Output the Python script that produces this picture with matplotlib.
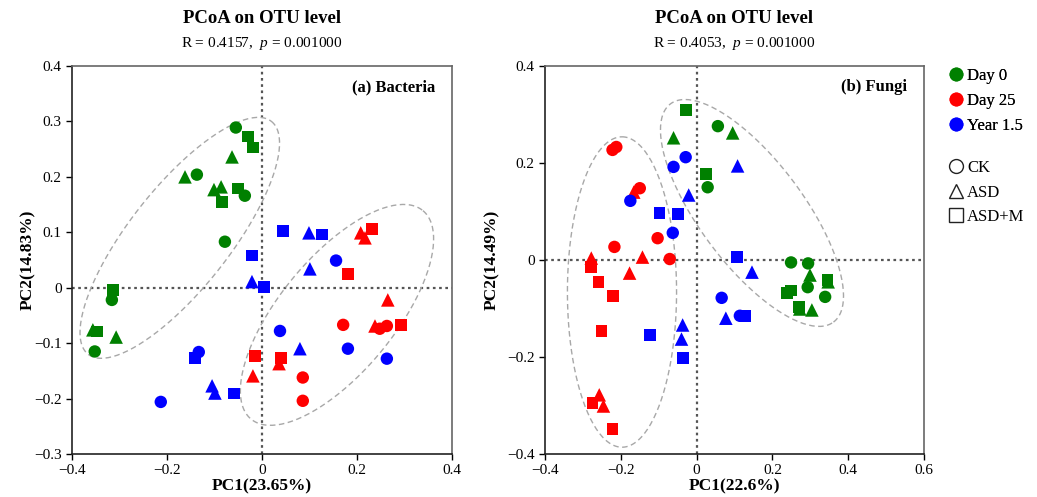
"""PCoA ordination of bacterial and fungal communities (OTU level)."""

import matplotlib
matplotlib.use("Agg")
import matplotlib.pyplot as plt
import numpy as np
from matplotlib.lines import Line2D
from matplotlib.ticker import FuncFormatter

plt.rcParams["font.family"] = ["Liberation Serif", "DejaVu Serif"]
plt.rcParams["mathtext.fontset"] = "custom"
plt.rcParams["mathtext.rm"] = "Liberation Serif"
plt.rcParams["mathtext.it"] = "Liberation Serif:italic"

# ---- data: bacteria (PC1, PC2) per sampling time and treatment ----
bac_day0_ck_x = [-0.055, -0.137, -0.036, -0.078, -0.316, -0.352]
bac_day0_ck_y = [0.289, 0.204, 0.166, 0.083, -0.022, -0.115]
bac_day0_asd_x = [-0.063, -0.162, -0.101, -0.086, -0.356, -0.307]
bac_day0_asd_y = [0.236, 0.200, 0.177, 0.182, -0.076, -0.089]
bac_day0_asdm_x = [-0.030, -0.019, -0.051, -0.084, -0.314, -0.348]
bac_day0_asdm_y = [0.273, 0.253, 0.179, 0.155, -0.004, -0.079]

bac_day25_ck_x = [0.171, 0.248, 0.263, 0.086, 0.086]
bac_day25_ck_y = [-0.067, -0.074, -0.069, -0.162, -0.204]
bac_day25_asd_x = [0.208, 0.217, 0.265, 0.238, 0.036, -0.019]
bac_day25_asd_y = [0.099, 0.090, -0.022, -0.069, -0.137, -0.159]
bac_day25_asdm_x = [0.232, 0.181, 0.292, -0.015, 0.040]
bac_day25_asdm_y = [0.106, 0.025, -0.067, -0.123, -0.127]

bac_year_ck_x = [0.156, 0.038, 0.181, 0.263, -0.133, -0.213]
bac_year_ck_y = [0.049, -0.078, -0.110, -0.128, -0.116, -0.206]
bac_year_asd_x = [0.099, 0.101, -0.021, 0.080, -0.105, -0.099]
bac_year_asd_y = [0.099, 0.034, 0.011, -0.110, -0.177, -0.190]
bac_year_asdm_x = [-0.021, 0.044, 0.126, 0.004, -0.141, -0.059]
bac_year_asdm_y = [0.058, 0.103, 0.096, 0.002, -0.127, -0.191]

# ---- data: fungi ----
fun_day0_ck_x = [0.056, 0.029, 0.249, 0.294, 0.293, 0.339]
fun_day0_ck_y = [0.276, 0.150, -0.005, -0.007, -0.056, -0.076]
fun_day0_asd_x = [0.095, -0.061, 0.299, 0.347, 0.272, 0.304]
fun_day0_asd_y = [0.262, 0.252, -0.031, -0.045, -0.101, -0.103]
fun_day0_asdm_x = [-0.029, 0.024, 0.248, 0.238, 0.345, 0.270]
fun_day0_asdm_y = [0.309, 0.177, -0.063, -0.068, -0.042, -0.097]

fun_day25_ck_x = [-0.222, -0.212, -0.150, -0.103, -0.217, -0.071]
fun_day25_ck_y = [0.227, 0.233, 0.148, 0.045, 0.027, 0.002]
fun_day25_asd_x = [-0.166, -0.278, -0.143, -0.177, -0.257, -0.246]
fun_day25_asd_y = [0.140, 0.004, 0.006, -0.027, -0.278, -0.301]
fun_day25_asdm_x = [-0.278, -0.259, -0.220, -0.251, -0.275, -0.222]
fun_day25_asdm_y = [-0.014, -0.045, -0.074, -0.146, -0.295, -0.348]

fun_year_ck_x = [-0.029, -0.061, -0.175, -0.063, 0.066, 0.114]
fun_year_ck_y = [0.212, 0.192, 0.122, 0.056, -0.078, -0.115]
fun_year_asd_x = [0.108, -0.021, -0.037, -0.040, 0.077, 0.146]
fun_year_asd_y = [0.194, 0.134, -0.134, -0.163, -0.120, -0.025]
fun_year_asdm_x = [-0.098, -0.050, 0.106, -0.124, -0.037, 0.127]
fun_year_asdm_y = [0.097, 0.095, 0.006, -0.155, -0.202, -0.115]

times = ["Day 0", "Day 25", "Year 1.5"]
treatments = ["CK", "ASD", "ASD+M"]
colors = {"Day 0": "#008000", "Day 25": "#ff0000", "Year 1.5": "#0000ff"}
markers = {"CK": "o", "ASD": "^", "ASD+M": "s"}
sizes = {"CK": 80, "ASD": 95, "ASD+M": 72}

bacteria = {
    ("Day 0", "CK"): (bac_day0_ck_x, bac_day0_ck_y),
    ("Day 0", "ASD"): (bac_day0_asd_x, bac_day0_asd_y),
    ("Day 0", "ASD+M"): (bac_day0_asdm_x, bac_day0_asdm_y),
    ("Day 25", "CK"): (bac_day25_ck_x, bac_day25_ck_y),
    ("Day 25", "ASD"): (bac_day25_asd_x, bac_day25_asd_y),
    ("Day 25", "ASD+M"): (bac_day25_asdm_x, bac_day25_asdm_y),
    ("Year 1.5", "CK"): (bac_year_ck_x, bac_year_ck_y),
    ("Year 1.5", "ASD"): (bac_year_asd_x, bac_year_asd_y),
    ("Year 1.5", "ASD+M"): (bac_year_asdm_x, bac_year_asdm_y),
}
fungi = {
    ("Day 0", "CK"): (fun_day0_ck_x, fun_day0_ck_y),
    ("Day 0", "ASD"): (fun_day0_asd_x, fun_day0_asd_y),
    ("Day 0", "ASD+M"): (fun_day0_asdm_x, fun_day0_asdm_y),
    ("Day 25", "CK"): (fun_day25_ck_x, fun_day25_ck_y),
    ("Day 25", "ASD"): (fun_day25_asd_x, fun_day25_asd_y),
    ("Day 25", "ASD+M"): (fun_day25_asdm_x, fun_day25_asdm_y),
    ("Year 1.5", "CK"): (fun_year_ck_x, fun_year_ck_y),
    ("Year 1.5", "ASD"): (fun_year_asd_x, fun_year_asd_y),
    ("Year 1.5", "ASD+M"): (fun_year_asdm_x, fun_year_asdm_y),
}


def tick_fmt(v, _pos):
    return "0" if abs(v) < 1e-9 else f"{v:g}".replace("-", "\u2212")


def draw_ellipse(ax, center, major, minor):
    """Dashed ellipse given centre and two semi-axis vectors (data units)."""
    t = np.linspace(0, 2 * np.pi, 200)
    x = center[0] + major[0] * np.cos(t) + minor[0] * np.sin(t)
    y = center[1] + major[1] * np.cos(t) + minor[1] * np.sin(t)
    ax.plot(x, y, ls=(0, (4, 2.5)), color="#a8a8a8", lw=1.0, zorder=1)


def draw_panel(ax, groups, xlim, ylim, xticks, yticks, title, stats,
               xlabel, ylabel, tag, ellipses, ylabel_x):
    ax.axvline(0, color="#555555", ls=(0, (1.2, 1.6)), lw=1.6, zorder=0)
    ax.axhline(0, color="#555555", ls=(0, (1.2, 1.6)), lw=1.6, zorder=0)
    for center, major, minor in ellipses:
        draw_ellipse(ax, center, major, minor)
    for (time, trt), (xs, ys) in groups.items():
        ax.scatter(xs, ys, c=colors[time], marker=markers[trt],
                   s=sizes[trt], edgecolors="none", zorder=3)
    ax.set_xlim(*xlim)
    ax.set_ylim(*ylim)
    ax.set_xticks(xticks)
    ax.set_yticks(yticks)
    ax.xaxis.set_major_formatter(FuncFormatter(tick_fmt))
    ax.yaxis.set_major_formatter(FuncFormatter(tick_fmt))
    ax.tick_params(labelsize=11, direction="out", length=4, width=1,
                   top=False, right=False)
    for side in ("left", "bottom"):
        ax.spines[side].set_color("#222222")
        ax.spines[side].set_linewidth(1.2)
    for side in ("top", "right"):
        ax.spines[side].set_color("#666666")
        ax.spines[side].set_linewidth(1.2)
    ax.set_xlabel(xlabel, fontsize=12.5, fontweight="bold")
    ax.set_ylabel(ylabel, fontsize=12.5, fontweight="bold")
    ax.xaxis.set_label_coords(0.5, -0.064)
    ax.yaxis.set_label_coords(ylabel_x, 0.5)
    ax.text(0.5, 1.11, title, transform=ax.transAxes, ha="center",
            fontsize=13.5, fontweight="bold")
    ax.text(0.5, 1.05, stats, transform=ax.transAxes, ha="center",
            fontsize=11)
    ax.text(0.955, 0.945, tag, transform=ax.transAxes, ha="right",
            va="center", fontsize=12, fontweight="bold")


fig = plt.figure(figsize=(10.37, 4.97), dpi=100)
ax1 = fig.add_axes([0.0694, 0.0865, 0.3664, 0.7807])
ax2 = fig.add_axes([0.5256, 0.0865, 0.3655, 0.7807])

draw_panel(
    ax1, bacteria, (-0.4, 0.4), (-0.3, 0.4),
    [-0.4, -0.2, 0, 0.2, 0.4], [-0.3, -0.2, -0.1, 0, 0.1, 0.2, 0.3, 0.4],
    "PCoA on OTU level", r"R = 0.4157,  $\it{p}$ = 0.001000",
    "PC1(23.65%)", "PC2(14.83%)", "(a) Bacteria",
    [((-0.173, 0.090), (0.193, 0.210), (0.083, -0.056)),
     ((0.158, -0.049), (0.181, 0.188), (0.093, -0.066))],
    -0.095,
)
draw_panel(
    ax2, fungi, (-0.4, 0.6), (-0.4, 0.4),
    [-0.4, -0.2, 0, 0.2, 0.4, 0.6], [-0.4, -0.2, 0, 0.2, 0.4],
    "PCoA on OTU level", r"R = 0.4053,  $\it{p}$ = 0.001000",
    "PC1(22.6%)", "PC2(14.49%)", "(b) Fungi",
    [((-0.197, -0.066), (0.0, 0.320), (0.144, 0.0)),
     ((0.146, 0.097), (0.215, -0.225), (0.110, 0.064))],
    -0.119,
)

# legends: colour = sampling time, shape = treatment
time_handles = [Line2D([], [], ls="none", marker="o", markersize=10,
                       markerfacecolor=colors[t], markeredgecolor="none")
                for t in times]
trt_handles = [Line2D([], [], ls="none", marker=markers[t], markersize=10,
                      markerfacecolor="none", markeredgecolor="#222222",
                      markeredgewidth=1.0)
               for t in treatments]
leg1 = fig.legend(time_handles, times, loc="upper left",
                  bbox_to_anchor=(0.907, 0.877), frameon=False, fontsize=12,
                  handletextpad=0.2, labelspacing=0.55, handlelength=1.0,
                  borderaxespad=0)
fig.legend(trt_handles, treatments, loc="upper left",
           bbox_to_anchor=(0.907, 0.691), frameon=False, fontsize=12,
           handletextpad=0.2, labelspacing=0.5, handlelength=1.0,
           borderaxespad=0)
fig.add_artist(leg1)

fig.savefig("out.png", dpi=100)
